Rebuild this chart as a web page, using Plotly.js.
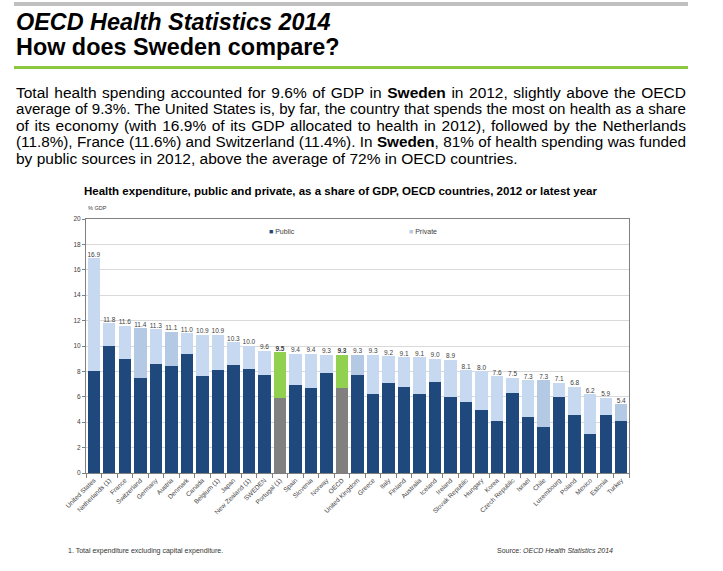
<!DOCTYPE html>
<html>
<head>
<meta charset="utf-8">
<script src="https://cdn.plot.ly/plotly-3.0.1.min.js"></script>
<style>
  html, body { margin:0; padding:0; background:#fff; width:723px; height:571px; overflow:hidden; }
  #chart { position:absolute; left:0; top:0; width:723px; height:571px; }
  .abs { position:absolute; z-index:5; font-family:"Liberation Sans", Arial, sans-serif; color:#000; white-space:nowrap; }
  .hr { position:absolute; z-index:5; }
  .pline { position:absolute; left:16px; width:670px; font-size:15.5px; line-height:17px; text-align:justify; text-align-last:justify; font-family:"Liberation Sans", Arial, sans-serif; white-space:nowrap; z-index:5; transform-origin:0 50%; }
  .pline.last { text-align-last:left; }
</style>
</head>
<body>
<div id="chart"></div>

<div class="hr" style="left:14px; top:2px; width:674px; height:4px; background:#c0c0c0;"></div>
<div class="abs" style="left:16px; top:9.3px; font-size:23.4px; font-weight:bold; font-style:italic; line-height:26px;">OECD Health Statistics 2014</div>
<div class="abs" style="left:16px; top:34.3px; font-size:23.4px; font-weight:bold; line-height:26px;">How does Sweden compare?</div>
<div class="hr" style="left:14px; top:65.5px; width:674px; height:3.5px; background:#8dc63f;"></div>

<div id="para"></div>

<div class="abs" style="left:68px; top:547px; font-size:7px; color:#333;">1. Total expenditure excluding capital expenditure.</div>
<div class="abs" style="left:497px; top:547px; font-size:7px; color:#333;">Source: <i>OECD Health Statistics 2014</i></div>

<script>
// ---------- data ----------
var countries = ["United States","Netherlands (1)","France","Switzerland","Germany","Austria","Denmark","Canada","Belgium (1)","Japan","New Zealand (1)","SWEDEN","Portugal (1)","Spain","Slovenia","Norway","OECD","United Kingdom","Greece","Italy","Finland","Australia","Iceland","Ireland","Slovak Republic","Hungary","Korea","Czech Republic","Israel","Chile","Luxembourg","Poland","Mexico","Estonia","Turkey"];
var totalSpend = [16.9,11.8,11.6,11.4,11.3,11.1,11.0,10.9,10.9,10.3,10.0,9.6,9.5,9.4,9.4,9.3,9.3,9.3,9.3,9.2,9.1,9.1,9.0,8.9,8.1,8.0,7.6,7.5,7.3,7.3,7.1,6.8,6.2,5.9,5.4];
var publicSpend = [8.0,10.0,9.0,7.5,8.6,8.4,9.4,7.6,8.1,8.5,8.2,7.7,5.9,6.9,6.7,7.9,6.7,7.7,6.2,7.1,6.8,6.2,7.2,6.0,5.6,5.0,4.1,6.3,4.4,3.6,6.0,4.6,3.1,4.6,4.1];
var highlighted = ["Portugal (1)","OECD"];
var shadedPrivate = ["Switzerland","Austria","United Kingdom","Chile","Turkey"];
var yTicks = [0,2,4,6,8,10,12,14,16,18,20];
var seriesNames = ["Public","Private"];

var paragraphLines = [
  'Total health spending accounted for 9.6% of GDP in <b>Sweden</b> in 2012, slightly above the OECD',
  'average of 9.3%. The United States is, by far, the country that spends the most on health as a share',
  'of its economy (with 16.9% of its GDP allocated to health in 2012), followed by the Netherlands',
  '(11.8%), France (11.6%) and Switzerland (11.4%). In <b>Sweden</b>, 81% of health spending was funded',
  'by public sources in 2012, above the average of 72% in OECD countries.'
];

// ---------- paragraph ----------
var para = document.getElementById('para');
paragraphLines.forEach(function(t, i){
  var d = document.createElement('div');
  d.className = 'pline' + (i === paragraphLines.length-1 ? ' last' : '');
  d.style.top = (84 + i*16.4) + 'px';
  d.innerHTML = t;
  para.appendChild(d);
  var probe = document.createElement('span');
  probe.style.cssText = 'position:absolute;visibility:hidden;white-space:nowrap;font-size:15.5px;font-family:"Liberation Sans", Arial, sans-serif;';
  probe.innerHTML = t;
  document.body.appendChild(probe);
  var w = probe.getBoundingClientRect().width;
  document.body.removeChild(probe);
  if (w > 668) {
    var s = 668 / w;
    d.style.width = (670 / s) + 'px';
    d.style.transform = 'scaleX(' + s + ')';
  }
});

// ---------- chart ----------
var NAVY = '#1f497d', LIGHT = '#c6d9f1', LIGHT2 = '#b4c9e4', GRAY = '#808080', GREEN = '#92d050';
var privateSpend = totalSpend.map(function(t,i){ return +(t - publicSpend[i]).toFixed(2); });
var pubColors = countries.map(function(c){ return highlighted.indexOf(c) >= 0 ? GRAY : NAVY; });
var privColors = countries.map(function(c){
  if (highlighted.indexOf(c) >= 0) return GREEN;
  return shadedPrivate.indexOf(c) >= 0 ? LIGHT2 : LIGHT;
});
var labels = totalSpend.map(function(v,i){
  var s = v.toFixed(1);
  return highlighted.indexOf(countries[i]) >= 0 ? '<b>' + s + '</b>' : s;
});

var traces = [
  { type:'bar', name:seriesNames[0], x:countries, y:publicSpend, marker:{color:pubColors}, hoverinfo:'skip', showlegend:false },
  { type:'bar', name:seriesNames[1], x:countries, y:privateSpend, marker:{color:privColors}, hoverinfo:'skip', showlegend:false },
  { type:'scatter', mode:'text', x:countries, y:totalSpend, text:labels, textposition:'top center',
    textfont:{size:6.5, color:'#404040', family:'Liberation Sans, Arial, sans-serif'}, showlegend:false, hoverinfo:'skip', cliponaxis:false }
];

var layout = {
  width:723, height:571,
  margin:{l:86, r:94, t:219, b:98, pad:0},
  paper_bgcolor:'rgba(0,0,0,0)', plot_bgcolor:'#fff',
  barmode:'stack', bargap:0.2,
  font:{family:'Liberation Sans, Arial, sans-serif', color:'#404040'},
  showlegend:false,
  xaxis:{ type:'category', range:[-0.5, countries.length-0.5], tickangle:-45, tickfont:{size:6.5, color:'#404040'}, ticks:'outside', tickson:'boundaries',
          ticklen:4, tickcolor:'#808080', showline:true, linecolor:'#808080', linewidth:1, mirror:true, showgrid:false, automargin:false },
  yaxis:{ range:[0,20], tickvals:yTicks, tickfont:{size:6.5, color:'#404040'}, ticks:'outside', ticklen:3, tickcolor:'#808080',
          showline:true, linecolor:'#808080', linewidth:1, mirror:true, gridcolor:'#d9d9d9', gridwidth:1, zeroline:false, automargin:false },
  annotations:[
    { text:'<b>Health expenditure, public and private, as a share of GDP, OECD countries, 2012 or latest year</b>',
      xref:'paper', yref:'paper', x:0.47, y:1.11, xanchor:'center', yanchor:'middle', showarrow:false,
      font:{size:11.5, color:'#000'} },
    { text:'% GDP', xref:'paper', yref:'paper', x:0.0, y:1.045, xanchor:'left', yanchor:'middle', showarrow:false,
      font:{size:5.5, color:'#404040'} },
    { text:'<span style="color:' + NAVY + '">■</span> ' + seriesNames[0], xref:'paper', yref:'paper', x:0.334, y:0.951,
      xanchor:'left', yanchor:'middle', showarrow:false, font:{size:7, color:'#404040'} },
    { text:'<span style="color:' + LIGHT2 + '">■</span> ' + seriesNames[1], xref:'paper', yref:'paper', x:0.592, y:0.951,
      xanchor:'left', yanchor:'middle', showarrow:false, font:{size:7, color:'#404040'} }
  ]
};

Plotly.newPlot('chart', traces, layout, {displayModeBar:false, staticPlot:true});
</script>
</body>
</html>
